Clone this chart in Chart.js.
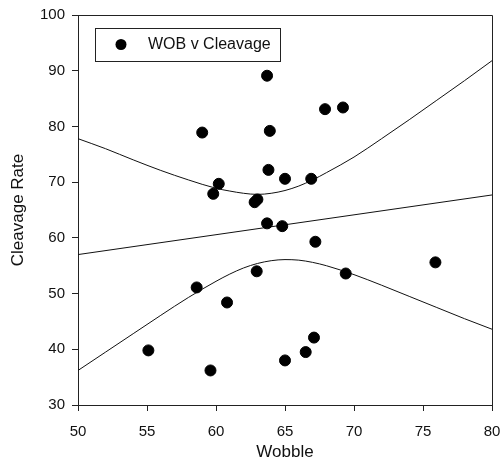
<!DOCTYPE html>
<html>
<head>
<meta charset="utf-8">
<script src="https://cdn.jsdelivr.net/npm/chart.js@4/dist/chart.umd.min.js"></script>
<style>
html,body{margin:0;padding:0;background:#fff;}
#wrap{width:503px;height:465px;}
</style>
</head>
<body>
<div id="wrap"><canvas id="c" width="503" height="465"></canvas></div>
<script>
// Scatter data: Wobble (x) vs Cleavage Rate (y)
const wobble   = [55.1, 58.6, 59.0, 59.6, 59.8, 60.2, 60.8, 62.8, 63.0, 62.95, 63.7, 63.7, 63.8, 63.9, 64.8, 65.0, 65.0, 66.5, 66.9, 67.1, 67.2, 67.9, 69.2, 69.4, 75.9];
const cleavage = [39.8, 51.1, 78.9, 36.2, 67.9, 69.7, 48.4, 66.4, 66.9, 54.0, 89.1, 62.6, 72.2, 79.2, 62.1, 70.6, 38.0, 39.5, 70.6, 42.1, 59.3, 83.1, 83.4, 53.6, 55.6];
// Regression line
const regX = [50, 80];
const regY = [57.0, 67.7];
// Confidence band
const bandX  = [50, 52, 54, 56, 58, 60, 61, 62, 63, 64, 65, 66, 67, 68, 70, 72, 74, 76, 78, 80];
const upperY = [77.8, 76.0, 74.0, 72.1, 70.4, 68.9, 68.4, 68.0, 67.8, 68.0, 68.5, 69.3, 70.4, 71.7, 74.5, 77.8, 81.2, 84.7, 88.2, 91.8];
const lowerY = [36.2, 39.5, 42.8, 46.1, 49.3, 52.2, 53.5, 54.6, 55.4, 55.9, 56.1, 56.0, 55.6, 55.0, 53.4, 51.5, 49.5, 47.5, 45.5, 43.6];
// Axis ticks
const xTicks = [50, 55, 60, 65, 70, 75, 80];
const yTicks = [30, 40, 50, 60, 70, 80, 90, 100];
const seriesLabel = 'WOB v Cleavage';

const FONT = '"Liberation Sans", Arial, sans-serif';
const toXY = (xs, ys) => xs.map((x, i) => ({x: x, y: ys[i]}));
const lineDs = (xs, ys) => ({
  type: 'line', data: toXY(xs, ys), borderColor: '#111', borderWidth: 1,
  pointRadius: 0, fill: false, cubicInterpolationMode: 'monotone', showLine: true
});

const framePlugin = {
  id: 'frame',
  afterDraw(chart) {
    const {ctx, chartArea: a} = chart;
    ctx.save();
    ctx.strokeStyle = '#222';
    ctx.lineWidth = 1;
    ctx.beginPath();
    ctx.moveTo(a.left, a.top + 0.5);
    ctx.lineTo(a.right + 0.5, a.top + 0.5);
    ctx.lineTo(a.right + 0.5, a.bottom);
    ctx.stroke();
    // legend box
    const lx = 95, ly = 28, lw = 185, lh = 33;
    ctx.fillStyle = '#fff';
    ctx.fillRect(lx, ly, lw, lh);
    ctx.strokeStyle = '#222';
    ctx.strokeRect(lx + 0.5, ly + 0.5, lw, lh);
    ctx.fillStyle = '#000';
    ctx.beginPath();
    ctx.arc(121, 44.5, 5.5, 0, Math.PI * 2);
    ctx.fill();
    ctx.font = '16px ' + FONT;
    ctx.textBaseline = 'middle';
    ctx.textAlign = 'left';
    ctx.fillStyle = '#111';
    ctx.fillText(seriesLabel, 148, 45);
    ctx.restore();
  }
};

new Chart(document.getElementById('c'), {
  type: 'scatter',
  data: {
    datasets: [
      {label: seriesLabel, data: toXY(wobble, cleavage), backgroundColor: '#000', borderColor: '#000', pointRadius: 5.5, pointHoverRadius: 5.5},
      lineDs(regX, regY),
      lineDs(bandX, upperY),
      lineDs(bandX, lowerY)
    ]
  },
  options: {
    responsive: false,
    animation: false,
    events: [],
    layout: {padding: {left: 0, top: 15, right: 11, bottom: 0}},
    plugins: {legend: {display: false}, tooltip: {enabled: false}},
    scales: {
      x: {
        type: 'linear', min: 50, max: 80,
        afterBuildTicks: s => { s.ticks = xTicks.map(v => ({value: v})); },
        afterFit: s => { s.height = 60; s.paddingLeft = 0; s.paddingRight = 0; },
        grid: {drawOnChartArea: false, drawTicks: true, tickLength: 6, color: '#222'},
        border: {display: true, color: '#222', width: 1},
        ticks: {color: '#111', font: {family: FONT, size: 15}, padding: 12, maxRotation: 0},
        title: {display: true, text: 'Wobble', color: '#111', font: {family: FONT, size: 17}, padding: {top: 0, bottom: 2}}
      },
      y: {
        type: 'linear', min: 30, max: 100,
        afterBuildTicks: s => { s.ticks = yTicks.map(v => ({value: v})); },
        afterFit: s => { s.width = 78; s.paddingTop = 0; s.paddingBottom = 0; },
        grid: {drawOnChartArea: false, drawTicks: true, tickLength: 6, color: '#222'},
        border: {display: true, color: '#222', width: 1},
        ticks: {color: '#111', font: {family: FONT, size: 15}, padding: 7},
        title: {display: true, text: 'Cleavage Rate', color: '#111', font: {family: FONT, size: 17}, padding: {top: 8, bottom: 0}}
      }
    }
  },
  plugins: [framePlugin]
});
</script>
</body>
</html>
